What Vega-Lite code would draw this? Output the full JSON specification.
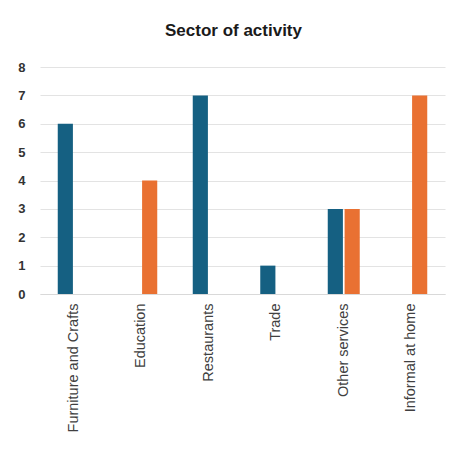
{
  "$schema": "https://vega.github.io/schema/vega-lite/v6.json",
  "width": 405,
  "height": 227,
  "autosize": {"type": "none"},
  "padding": {"left": 40, "top": 67, "right": 12, "bottom": 158},
  "background": "white",
  "title": {
    "text": "Sector of activity",
    "fontSize": 17,
    "fontWeight": "bold",
    "font": "Liberation Sans",
    "color": "#1a1a1a",
    "anchor": "middle",
    "offset": 21,
    "dx": -9
  },
  "data": {
    "values": [
      {"sector": "Furniture and Crafts", "group": "A", "count": 6},
      {"sector": "Furniture and Crafts", "group": "B", "count": 0},
      {"sector": "Education", "group": "A", "count": 0},
      {"sector": "Education", "group": "B", "count": 4},
      {"sector": "Restaurants", "group": "A", "count": 7},
      {"sector": "Restaurants", "group": "B", "count": 0},
      {"sector": "Trade", "group": "A", "count": 1},
      {"sector": "Trade", "group": "B", "count": 0},
      {"sector": "Other services", "group": "A", "count": 3},
      {"sector": "Other services", "group": "B", "count": 3},
      {"sector": "Informal at home", "group": "A", "count": 0},
      {"sector": "Informal at home", "group": "B", "count": 7}
    ]
  },
  "mark": {"type": "bar"},
  "encoding": {
    "x": {
      "field": "sector",
      "type": "nominal",
      "sort": null,
      "scale": {"paddingInner": 0.526, "paddingOuter": 0.263},
      "axis": {
        "title": null,
        "labelAngle": -90,
        "labelFont": "Liberation Sans",
        "labelFontSize": 14.5,
        "labelColor": "#404040",
        "labelPadding": 9,
        "labelLimit": 200,
        "ticks": false,
        "domainColor": "#d9d9d9",
        "grid": false
      }
    },
    "xOffset": {
      "field": "group",
      "type": "nominal",
      "scale": {"paddingInner": 0.1}
    },
    "y": {
      "field": "count",
      "type": "quantitative",
      "scale": {"domain": [0, 8]},
      "axis": {
        "title": null,
        "values": [0, 1, 2, 3, 4, 5, 6, 7, 8],
        "labelFont": "Liberation Sans",
        "labelFontSize": 13,
        "labelFontWeight": "bold",
        "labelColor": "#333333",
        "labelPadding": 15,
        "ticks": false,
        "domain": false,
        "gridColor": "#e3e3e3"
      }
    },
    "color": {
      "field": "group",
      "type": "nominal",
      "scale": {"domain": ["A", "B"], "range": ["#156082", "#E97132"]},
      "legend": null
    }
  },
  "config": {"view": {"stroke": null}}
}
